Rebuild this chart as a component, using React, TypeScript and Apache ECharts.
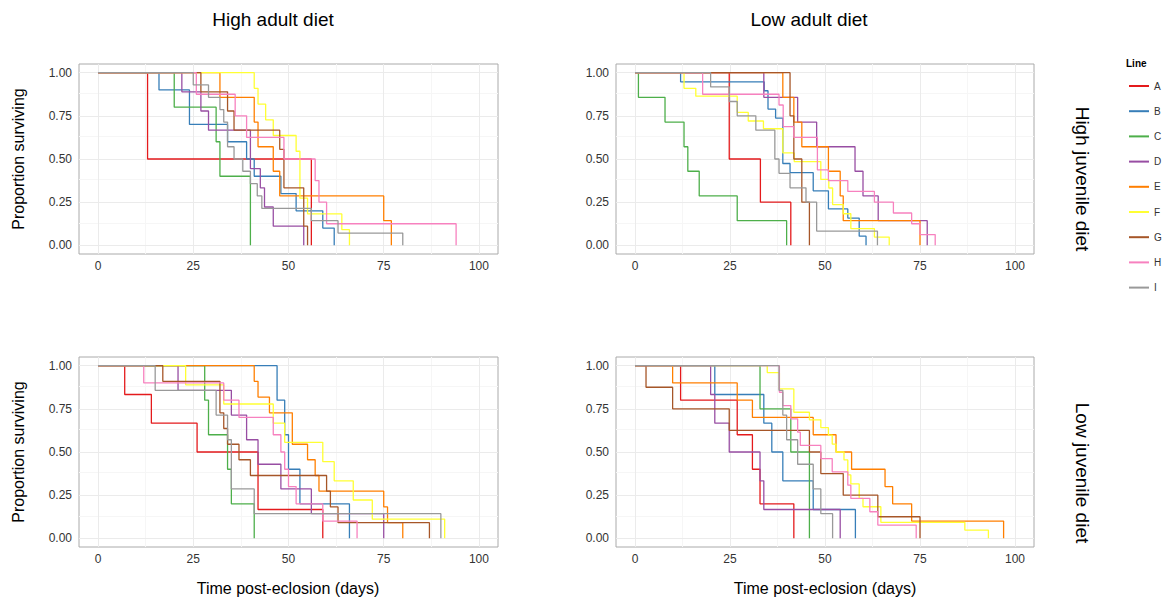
import React, { useEffect, useRef } from 'react';
import * as echarts from 'echarts';

const FONT = '"Liberation Sans", Arial, Helvetica, sans-serif';

const LINES = ['A', 'B', 'C', 'D', 'E', 'F', 'G', 'H', 'I'];
const COLORS = ['#E41A1C', '#377EB8', '#4DAF4A', '#984EA3', '#FF7F00', '#FFFF33', '#A65628', '#F781BF', '#999999'];
const X_TICKS = [0, 25, 50, 75, 100];
const Y_TICKS = [0, 0.25, 0.5, 0.75, 1];
const X_MINOR = [12.5, 37.5, 62.5, 87.5];
const Y_MINOR = [0.125, 0.375, 0.625, 0.875];

// Each curve: [day, proportion surviving after that day] – starts at [0, 1]
// High adult diet / High juvenile diet
const HA_HJ: number[][][] = [
  [[13, 0.5], [56, 0]],
  [[16, 0.9], [24, 0.7], [34, 0.6], [39, 0.5], [41, 0.4], [48, 0.3], [52, 0.2], [59, 0.1], [62, 0]],
  [[20, 0.8], [31, 0.6], [32, 0.4], [40, 0]],
  [[22, 0.889], [27, 0.778], [29, 0.667], [40, 0.444], [42.6, 0.333], [43.7, 0.222], [46, 0.111], [54, 0]],
  [[32, 0.857], [41, 0.714], [42, 0.571], [46, 0.429], [47.7, 0.286], [75, 0.143], [77, 0]],
  [[41, 0.909], [42, 0.818], [44, 0.727], [46, 0.636], [52, 0.545], [53, 0.273], [55, 0.182], [64, 0.091], [66, 0]],
  [[27, 0.889], [34, 0.778], [35.7, 0.667], [47.7, 0.556], [48.8, 0.333], [54, 0.111], [55, 0]],
  [[25.8, 0.875], [36, 0.75], [39, 0.625], [48.8, 0.5], [57, 0.375], [58, 0.25], [60, 0.125], [94, 0]],
  [[25, 0.929], [29, 0.857], [32, 0.786], [33, 0.714], [34, 0.571], [35.7, 0.5], [38, 0.429], [40, 0.357], [41.8, 0.286], [43, 0.214], [56, 0.143], [63, 0.071], [80, 0]],
];

// Low adult diet / High juvenile diet
const LA_HJ: number[][][] = [
  [[24.8, 0.5], [33, 0.25], [41, 0]],
  [[12, 0.947], [34, 0.895], [35, 0.789], [37, 0.737], [38.9, 0.474], [40.8, 0.421], [46.9, 0.316], [50.9, 0.211], [56, 0.158], [59, 0.053], [60.8, 0]],
  [[0.9, 0.857], [7.9, 0.714], [12.9, 0.571], [13.9, 0.429], [16.9, 0.286], [26.9, 0.143], [39.9, 0]],
  [[33.9, 0.857], [42.8, 0.714], [47.8, 0.571], [57.9, 0.429], [60, 0.286], [64, 0.143], [76.9, 0]],
  [[38.9, 0.857], [41.8, 0.714], [43.9, 0.571], [50.9, 0.429], [54, 0.286], [54.8, 0.143], [75, 0]],
  [[12.9, 0.909], [16, 0.864], [26.9, 0.77], [29.8, 0.72], [33.8, 0.675], [38.9, 0.535], [41.9, 0.485], [48.9, 0.382], [51, 0.332], [52, 0.236], [54.8, 0.183], [56.8, 0.097], [63, 0.048], [66.9, 0]],
  [[40.8, 0.75], [41.8, 0.5], [43.9, 0.25], [45.9, 0]],
  [[17.8, 0.875], [37.9, 0.8125], [39, 0.6875], [41.8, 0.625], [48, 0.4375], [50.9, 0.375], [56, 0.3125], [63, 0.25], [68, 0.1875], [72.8, 0.125], [75, 0.0625], [79, 0]],
  [[19.9, 0.917], [24.8, 0.833], [26.9, 0.75], [31.8, 0.667], [36.8, 0.5], [37.9, 0.417], [40.8, 0.333], [45, 0.25], [47.8, 0.083], [63.8, 0]],
];

// High adult diet / Low juvenile diet
const HA_LJ: number[][][] = [
  [[7, 0.833], [14, 0.667], [26, 0.5], [42, 0.167], [59, 0]],
  [[47, 0.8], [49, 0.6], [50, 0.4], [53, 0.2], [66, 0]],
  [[28, 0.8], [29, 0.6], [34, 0.4], [35, 0.2], [41, 0]],
  [[21, 0.857], [35, 0.714], [39, 0.571], [42, 0.429], [48, 0.286], [56, 0.143], [75, 0]],
  [[41, 0.909], [42, 0.818], [45, 0.727], [51, 0.545], [55, 0.455], [57, 0.364], [58, 0.273], [75, 0.182], [76, 0.091], [80, 0]],
  [[23, 0.889], [33, 0.778], [46, 0.667], [49, 0.556], [59, 0.444], [62, 0.333], [67, 0.222], [72, 0.111], [91, 0]],
  [[17, 0.909], [32, 0.727], [33, 0.636], [34, 0.545], [37, 0.455], [40, 0.364], [60, 0.273], [61, 0.182], [63, 0.091], [87, 0]],
  [[12, 0.9], [33, 0.8], [37, 0.7], [46, 0.6], [48, 0.5], [49, 0.4], [50, 0.3], [52, 0.2], [59, 0.1], [68, 0]],
  [[15, 0.857], [31, 0.714], [34, 0.571], [35, 0.286], [41, 0.143], [90, 0]],
];

// Low adult diet / Low juvenile diet
const LA_LJ: number[][][] = [
  [[12, 0.8], [26.9, 0.6], [30.9, 0.4], [32.9, 0.2], [41.8, 0]],
  [[21, 0.833], [33.9, 0.667], [36, 0.5], [38.9, 0.333], [46.9, 0.167], [58, 0]],
  [[32.9, 0.75], [41, 0.5], [45.9, 0]],
  [[19.9, 0.833], [21, 0.667], [24.8, 0.5], [32.9, 0.333], [33.9, 0.167], [54, 0]],
  [[9.9, 0.9], [26.9, 0.8], [30.9, 0.7], [46.9, 0.6], [52.9, 0.5], [57, 0.4], [65.8, 0.3], [67.8, 0.2], [72.8, 0.1], [97, 0]],
  [[34.8, 0.96], [38, 0.865], [41.8, 0.73], [45.9, 0.686], [48.9, 0.641], [50.9, 0.598], [51.9, 0.546], [52.9, 0.5], [55, 0.454], [56, 0.367], [56.8, 0.315], [59, 0.232], [60, 0.183], [64.7, 0.093], [86.8, 0.048], [93, 0]],
  [[2.9, 0.875], [9.9, 0.75], [24.8, 0.625], [45.9, 0.5], [48.9, 0.375], [54.8, 0.25], [63.9, 0.125], [75, 0]],
  [[38, 0.846], [38.9, 0.769], [41, 0.692], [42.8, 0.615], [43.5, 0.538], [48.9, 0.462], [51.9, 0.385], [56, 0.308], [56.8, 0.231], [61.8, 0.154], [63.9, 0.077], [74, 0]],
  [[37.9, 0.857], [38.9, 0.714], [39.9, 0.571], [42.8, 0.429], [46.9, 0.286], [48.9, 0.143], [52, 0]],
];

const PANELS = [HA_HJ, LA_HJ, HA_LJ, LA_LJ];
const GRIDS = [
  { left: 79, top: 64, width: 419, height: 190 },
  { left: 616, top: 64, width: 418, height: 190 },
  { left: 79, top: 357, width: 419, height: 190 },
  { left: 616, top: 357, width: 418, height: 190 },
];

const MAJOR = '#EBEBEB';
const MINOR = '#F6F6F6';

function gridMarkLines() {
  const d: any[] = [];
  X_MINOR.forEach((v) => d.push({ xAxis: v, lineStyle: { color: MINOR } }));
  Y_MINOR.forEach((v) => d.push({ yAxis: v, lineStyle: { color: MINOR } }));
  X_TICKS.forEach((v) => d.push({ xAxis: v, lineStyle: { color: MAJOR } }));
  Y_TICKS.forEach((v) => d.push({ yAxis: v, lineStyle: { color: MAJOR } }));
  return d;
}

function buildOption() {
  const series: any[] = [];
  PANELS.forEach((panel, p) => {
    panel.forEach((steps, l) => {
      const s: any = {
        type: 'line',
        name: LINES[l],
        xAxisIndex: p,
        yAxisIndex: p,
        step: 'end',
        symbol: 'none',
        showSymbol: false,
        silent: true,
        z: 2,
        data: [[0, 1], ...steps],
        lineStyle: { color: COLORS[l], width: 1.3 },
        itemStyle: { color: COLORS[l] },
      };
      if (l === 0) {
        s.markLine = {
          silent: true,
          z: 1,
          symbol: ['none', 'none'],
          label: { show: false },
          animation: false,
          lineStyle: { type: 'solid', width: 1 },
          emphasis: { disabled: true },
          data: gridMarkLines(),
        };
      }
      series.push(s);
    });
  });

  const axisText = { color: '#333', fontSize: 12, fontFamily: FONT };
  const tick = { show: true, length: 4, lineStyle: { color: '#333', width: 1 } };

  const text = (t: string, x: number, y: number, size: number, rot = 0, weight = 'normal', align = 'center') => ({
    type: 'text',
    x,
    y,
    rotation: rot,
    silent: true,
    style: {
      text: t,
      fontSize: size,
      fontFamily: FONT,
      fontWeight: weight,
      fill: '#000',
      textAlign: align,
      textVerticalAlign: 'middle',
    },
  });

  return {
    animation: false,
    backgroundColor: '#fff',
    textStyle: { fontFamily: FONT },
    grid: GRIDS.map((g) => ({
      ...g,
      show: true,
      borderColor: '#AAAAAA',
      borderWidth: 1,
      backgroundColor: '#fff',
      containLabel: false,
    })),
    xAxis: GRIDS.map((_, i) => ({
      type: 'value',
      gridIndex: i,
      min: -5,
      max: 105,
      axisLine: { show: false },
      splitLine: { show: false },
      axisTick: { ...tick, customValues: X_TICKS },
      axisLabel: { ...axisText, margin: 6, customValues: X_TICKS, formatter: (v: number) => String(v) },
    })),
    yAxis: GRIDS.map((_, i) => ({
      type: 'value',
      gridIndex: i,
      min: -0.05,
      max: 1.05,
      axisLine: { show: false },
      splitLine: { show: false },
      axisTick: { ...tick, customValues: Y_TICKS },
      axisLabel: { ...axisText, margin: 7, customValues: Y_TICKS, formatter: (v: number) => v.toFixed(2) },
    })),
    legend: {
      orient: 'vertical',
      left: 1129,
      top: 81,
      padding: 0,
      icon: 'rect',
      itemWidth: 20,
      itemHeight: 2,
      itemGap: 15.2,
      selectedMode: false,
      data: LINES,
      textStyle: { fontSize: 10, fontFamily: FONT, color: '#333' },
    },
    graphic: [
      text('High adult diet', 273, 19, 19),
      text('Low adult diet', 809, 19, 19),
      text('High juvenile diet', 1082, 179, 19, -Math.PI / 2),
      text('Low juvenile diet', 1082, 473, 19, -Math.PI / 2),
      text('Proportion surviving', 18, 159, 16, Math.PI / 2),
      text('Proportion surviving', 18, 452, 16, Math.PI / 2),
      text('Time post-eclosion (days)', 288, 588, 16),
      text('Time post-eclosion (days)', 825, 588, 16),
      text('Line', 1126, 63, 10, 0, 'bold', 'left'),
    ],
    series,
  };
}

export default function App() {
  const ref = useRef<HTMLDivElement>(null);
  useEffect(() => {
    document.body.style.margin = '0';
    const chart = echarts.init(ref.current!, null, { renderer: 'svg' });
    chart.setOption(buildOption() as any);
    return () => chart.dispose();
  }, []);
  return <div ref={ref} style={{ width: 1169, height: 600 }} />;
}
